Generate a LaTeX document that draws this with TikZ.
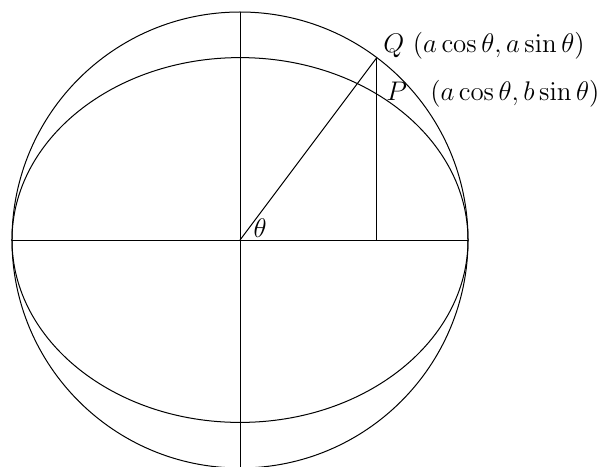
\documentclass[tikz,border=0pt]{standalone}
\usepackage{amsmath}
\usetikzlibrary{calc}
\begin{document}
\begin{tikzpicture}[scale=4, line width=0.5pt, font=\large,
		lbl/.style={anchor=base west, inner sep=0pt, scale=1.12}]
		\def\ra{1}
		\def\rb{0.8}
		\def\th{53.13}
		% frame of the picture
		\useasboundingbox (-1.0526,-0.9912) rectangle (1.5789,1.0526);
		\clip (-1.0526,-0.9912) rectangle (1.5789,1.0526);
		%%% circle and ellipse
		\coordinate (O) at (0,0);
		\draw (O) circle (\ra);
		\draw (O) ellipse [x radius=\ra, y radius=\rb];
		%%% axes
		\coordinate (L) at (-\ra,0);
		\coordinate (R) at (\ra,0);
		\coordinate (T) at (0,\ra);
		\coordinate (B) at (0,-\ra);
		\draw (L) -- (R);
		\draw (T) -- (B);
		%%% points on circle and ellipse
		\coordinate (Q) at ({\ra*cos(\th)},{\ra*sin(\th)});
		\coordinate (P) at ({\ra*cos(\th)},{\rb*sin(\th)});
		\coordinate (F) at ({\ra*cos(\th)},0);
		\draw (O) -- (Q);
		\draw (Q) -- (F);
		\node[lbl] (lblQ) at ($(Q)+(0.026,0.022)$) {$Q\ (a\cos\theta, a\sin\theta)$};
		\node[lbl] (lblP) at ($(P)+(0.04,-0.03)$) {$P$};
		\node[lbl] (lblPc) at ($(P)+(0.232,-0.03)$) {$(a\cos\theta, b\sin\theta)$};
		\node[lbl] (lblth) at ($(O)+(0.057,0.013)$) {$\theta$};
	\end{tikzpicture}
\end{document}
